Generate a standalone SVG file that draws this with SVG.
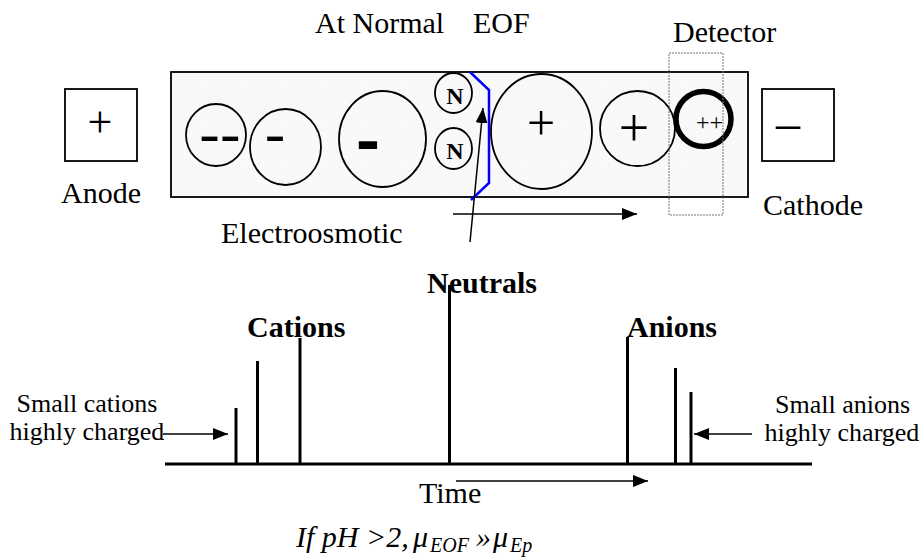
<svg xmlns="http://www.w3.org/2000/svg" width="923" height="557" viewBox="0 0 923 557">
<style>
text{font-family:"Liberation Serif","Times New Roman",serif;fill:#000}
.t30{font-size:30px}
.b30{font-size:30px;font-weight:bold}
.s26{font-size:26px;text-anchor:middle}
.ion{fill:none;stroke:#000;stroke-width:1.8}
.peak{stroke:#000;stroke-width:3}
.arr{stroke:#000;stroke-width:1.5;fill:none;marker-end:url(#ah)}
.minus{font-family:"Liberation Sans",Arial,sans-serif;font-weight:bold;text-anchor:middle}
</style>
<defs>
<marker id="ah" markerUnits="userSpaceOnUse" markerWidth="15" markerHeight="12" refX="15" refY="6" orient="auto">
<path d="M0,0 L15,6 L0,12 z" fill="#000"/>
</marker>
<pattern id="grid" width="10" height="10" patternUnits="userSpaceOnUse">
<rect width="10" height="10" fill="#f9f9f9"/>
<path d="M10,0 V10 M0,10 H10" stroke="#eeeeee" stroke-width="0.5" fill="none"/>
</pattern>
</defs>
<rect width="923" height="557" fill="#fff"/>

<g id="title">
<text class="t30" x="315" y="33">At Normal</text>
<text class="t30" x="473" y="33">EOF</text>
<text class="t30" x="673" y="42">Detector</text>
</g>

<g id="anode">
<rect x="65" y="89" width="72" height="72" fill="#fff" stroke="#000" stroke-width="1.8"/>
<text x="100" y="136.6" font-size="44" text-anchor="middle">+</text>
<text class="t30" x="61" y="203">Anode</text>
</g>

<g id="cathode">
<rect x="762" y="89" width="72" height="72" fill="#fff" stroke="#000" stroke-width="1.8"/>
<text x="776" y="139" font-size="48">–</text>
<text class="t30" x="763" y="215">Cathode</text>
</g>

<g id="capillary">
<rect x="171" y="72" width="577" height="125" fill="url(#grid)" stroke="#000" stroke-width="1.8"/>
</g>

<g id="ion-dianion">
<ellipse class="ion" cx="216" cy="135" rx="30" ry="31"/>
<text class="minus" transform="translate(220,135) scale(1,0.6)" x="0" y="22" font-size="62">--</text>
</g>
<g id="ion-anion-small">
<ellipse class="ion" cx="285.5" cy="147" rx="35.5" ry="38"/>
<text class="minus" transform="translate(275,135) scale(1,0.6)" x="0" y="22" font-size="62">-</text>
</g>
<g id="ion-anion-large">
<ellipse class="ion" cx="382.5" cy="139" rx="43.5" ry="48"/>
<text class="minus" transform="translate(368,144.5) scale(1,0.9)" x="0" y="19" font-size="72">-</text>
</g>
<g id="neutral-1">
<ellipse class="ion" cx="453.5" cy="93" rx="18.5" ry="20"/>
<text x="455" y="104" font-size="24" font-weight="bold" text-anchor="middle">N</text>
</g>
<g id="neutral-2">
<ellipse class="ion" cx="453.5" cy="148.5" rx="18.5" ry="20.5"/>
<text x="455" y="159" font-size="24" font-weight="bold" text-anchor="middle">N</text>
</g>
<g id="eof-front">
<polyline points="470,72 489,90 489,183 471,200" fill="none" stroke="#0000ff" stroke-width="2.5"/>
</g>
<g id="ion-cation-large">
<ellipse class="ion" cx="541.5" cy="131.5" rx="50.5" ry="57.5"/>
<text x="541" y="140" font-size="50" text-anchor="middle">+</text>
</g>
<g id="ion-cation-small">
<ellipse class="ion" cx="637.5" cy="128.5" rx="37.5" ry="37.5"/>
<text x="634" y="146" font-size="54" text-anchor="middle">+</text>
</g>
<g id="ion-dication">
<circle cx="703.5" cy="119" r="27.5" fill="none" stroke="#000" stroke-width="5.5"/>
<text x="696" y="130" font-size="24">++</text>
</g>
<g id="detector">
<rect x="669" y="53" width="54" height="162" fill="none" stroke="#777" stroke-width="1" stroke-dasharray="2,1"/>
</g>

<g id="labels">
<text class="t30" x="221" y="243">Electroosmotic</text>
<text class="b30" x="427" y="293">Neutrals</text>
<text class="b30" x="247" y="337">Cations</text>
<text class="b30" x="627" y="337">Anions</text>
<text class="s26" x="87" y="412">Small cations</text>
<text class="s26" x="87" y="440">highly charged</text>
<text class="s26" x="842.5" y="413">Small anions</text>
<text class="s26" x="842" y="441">highly charged</text>
<text class="t30" x="419" y="503">Time</text>
<text font-size="30" font-style="italic" y="547"><tspan x="296">If pH &gt;2,</tspan><tspan x="413">μ</tspan><tspan x="430" dy="5" font-size="20">EOF</tspan><tspan x="476" dy="-5">»</tspan><tspan x="493">μ</tspan><tspan x="510" dy="5" font-size="20">Ep</tspan></text>
</g>

<g id="electropherogram">
<line class="peak" x1="165" y1="464" x2="812" y2="464"/>
<line class="peak" x1="236" y1="464" x2="236" y2="408"/>
<line class="peak" x1="257.5" y1="464" x2="257.5" y2="361"/>
<line class="peak" x1="300" y1="464" x2="300" y2="338"/>
<line class="peak" x1="449.5" y1="464" x2="449.5" y2="285"/>
<line class="peak" x1="627.5" y1="464" x2="627.5" y2="337"/>
<line class="peak" x1="675.5" y1="464" x2="675.5" y2="368"/>
<line class="peak" x1="691" y1="464" x2="691" y2="392"/>
</g>

<g id="connectors">
<line class="arr" x1="470" y1="242" x2="483" y2="108"/>
<line class="arr" x1="453" y1="214" x2="637" y2="214"/>
<line class="arr" x1="456" y1="481" x2="648" y2="481"/>
<line class="arr" x1="163" y1="434" x2="228" y2="434"/>
<line class="arr" x1="752" y1="434" x2="694" y2="434"/>
</g>
</svg>
